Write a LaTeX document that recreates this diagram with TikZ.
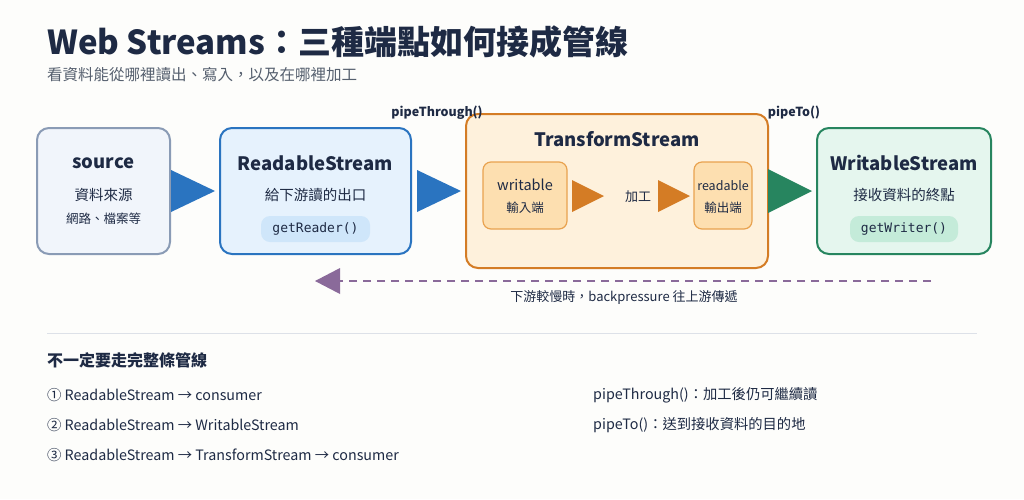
\documentclass[tikz,border=0pt]{standalone}
\usepackage{fontspec}
\setmainfont{Noto Sans CJK TC}
\newfontfamily\monof{DejaVu Sans Mono}
\definecolor{ink}{HTML}{1E2A44}
\definecolor{gray}{HTML}{555F6E}
\definecolor{bg}{HTML}{FDFDFB}
\definecolor{blueD}{HTML}{2A74C0}
\definecolor{orD}{HTML}{D47C25}
\definecolor{innerF}{HTML}{FDDFB0}
\definecolor{innerD}{HTML}{E9A24F}
\definecolor{grD}{HTML}{27855F}
\definecolor{purp}{HTML}{8A6A9A}
\definecolor{srcF}{HTML}{F1F5FB}
\definecolor{srcD}{HTML}{8A9BB5}
\definecolor{rsF}{HTML}{E6F2FD}
\definecolor{rsP}{HTML}{CFE6FA}
\definecolor{tsF}{HTML}{FEF1DC}
\definecolor{wsF}{HTML}{E5F6EE}
\definecolor{wsP}{HTML}{C4EBD9}
\definecolor{sep}{HTML}{DDE1E8}
\begin{document}
\begin{tikzpicture}[x=1pt,y=-1pt,
 box/.style={draw,rounded corners=12pt,line width=2pt},
 inner/.style={draw,rounded corners=8pt,line width=1.2pt,fill=innerF,draw=innerD},
 pill/.style={rounded corners=9pt,inner sep=0pt},
 t/.style={inner sep=0pt,text=ink},
]
\useasboundingbox (0,0) rectangle (1024,499);
\fill[bg] (0,0) rectangle (1024,499);
\node[t,anchor=west,font=\bfseries\fontsize{33}{33}\selectfont] (title) at (47,42) {Web Streams：三種端點如何接成管線};
\node[t,anchor=west,text=gray,font=\fontsize{15.5}{15}\selectfont] (sub) at (47,75) {看資料能從哪裡讀出、寫入，以及在哪裡加工};
% boxes
\draw[box,fill=srcF,draw=srcD] (37,128) rectangle (170,254);
\node[t,font=\bfseries\fontsize{18.5}{18}\selectfont] (src) at (103.5,163) {source};
\node[t,font=\fontsize{14.5}{14}\selectfont] (src1) at (103.5,195) {資料來源};
\node[t,font=\fontsize{12.5}{12}\selectfont] (src2) at (103.5,219) {網路、檔案等};
\draw[box,fill=rsF,draw=blueD] (220,128) rectangle (411,254);
\node[t,font=\bfseries\fontsize{18.5}{18}\selectfont] (rs) at (315.5,163) {ReadableStream};
\node[t,font=\fontsize{14.5}{14}\selectfont] (rs1) at (315.5,195) {給下游讀的出口};
\fill[pill,fill=rsP] (261,216) rectangle (370,242);
\node[t,font=\monof\fontsize{13}{13}\selectfont] (rs2) at (315.5,229) {getReader()};
\draw[box,fill=tsF,draw=orD] (466,114) rectangle (768,268);
\node[t,font=\bfseries\fontsize{18.5}{18}\selectfont] (ts) at (617,139) {TransformStream};
\draw[inner] (483,162) rectangle (567,229);
\node[t,font=\fontsize{14.5}{14}\selectfont] (w) at (525,185) {writable};
\node[t,font=\fontsize{12.5}{12}\selectfont] (w1) at (525,208) {輸入端};
\draw[inner] (694,162) rectangle (752,229);
\node[t,font=\fontsize{12.5}{12}\selectfont] (r) at (723,186) {readable};
\node[t,font=\fontsize{12.5}{12}\selectfont] (r1) at (723,208) {輸出端};
\node[t,font=\fontsize{13}{13}\selectfont] (jg) at (638,197) {加工};
\draw[box,fill=wsF,draw=grD] (817,128) rectangle (991,254);
\node[t,font=\bfseries\fontsize{18.5}{18}\selectfont] (ws) at (904,163) {WritableStream};
\node[t,font=\fontsize{14.5}{14}\selectfont] (ws1) at (904,195) {接收資料的終點};
\fill[pill,fill=wsP] (850,216) rectangle (958,242);
\node[t,font=\monof\fontsize{13}{13}\selectfont] (ws2) at (904,229) {getWriter()};
% triangles
\fill[blueD] (171,170) -- (215,191) -- (171,212) -- cycle;
\fill[blueD] (417,170) -- (461,191) -- (417,212) -- cycle;
\fill[orD] (572,180) -- (604,196) -- (572,212) -- cycle;
\fill[orD] (658,180) -- (690,196) -- (658,212) -- cycle;
\fill[grD] (768,169) -- (812,191) -- (768,213) -- cycle;
\node[t,font=\bfseries\fontsize{12.5}{12}\selectfont] (pt) at (437,113) {pipeThrough()};
\node[t,font=\bfseries\fontsize{12.5}{12}\selectfont] (pto) at (794,113) {pipeTo()};
% backpressure
\coordinate (bpA) at (931,281);
\coordinate (bpB) at (340,281);
\draw[purp,line width=2pt,dash pattern=on 8pt off 6pt] (bpA) -- (bpB);
\fill[purp] (340,268) -- (315,281) -- (340,294) -- cycle;
\node[t,font=\fontsize{13}{12}\selectfont] (bp) at (624,297) {下游較慢時，backpressure 往上游傳遞};
\draw[sep,line width=1pt] (47,333) -- (977,333);
\node[t,anchor=west,font=\bfseries\fontsize{16}{15}\selectfont] (h2) at (47,360) {不一定要走完整條管線};
\node[t,anchor=west,font=\fontsize{14.3}{14}\selectfont] (l1) at (47,395) {① ReadableStream → consumer};
\node[t,anchor=west,font=\fontsize{14.3}{14}\selectfont] (l2) at (47,425) {② ReadableStream → WritableStream};
\node[t,anchor=west,font=\fontsize{14.3}{14}\selectfont] (l3) at (47,455) {③ ReadableStream → TransformStream → consumer};
\node[t,anchor=west,font=\fontsize{14.3}{14}\selectfont] (n1) at (593,395) {pipeThrough()：加工後仍可繼續讀};
\node[t,anchor=west,font=\fontsize{14.3}{14}\selectfont] (n2) at (593,425) {pipeTo()：送到接收資料的目的地};
\end{tikzpicture}
\end{document}
